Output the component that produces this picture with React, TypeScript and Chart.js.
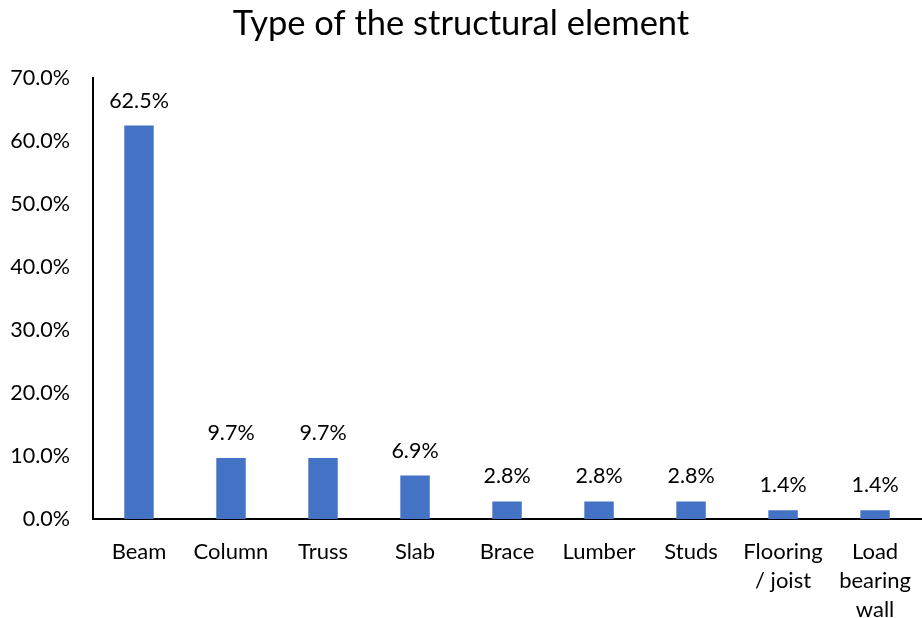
import React, { useEffect, useRef } from "react";
import { Chart, registerables } from "chart.js";

Chart.register(...registerables);

const categories: (string | string[])[] = [
  "Beam",
  "Column",
  "Truss",
  "Slab",
  "Brace",
  "Lumber",
  "Studs",
  ["Flooring", "/ joist"],
  ["Load", "bearing", "wall"],
];
const values: number[] = [62.5, 9.7, 9.7, 6.9, 2.8, 2.8, 2.8, 1.4, 1.4];
const yMax = 70;
const yStep = 10;
const title = "Type of the structural element";

const FONT = "Lato, 'Open Sans', sans-serif";

const dataLabelPlugin = {
  id: "dataLabels",
  afterDatasetsDraw(chart: any) {
    const ctx = chart.ctx;
    const meta = chart.getDatasetMeta(0);
    ctx.save();
    ctx.font = `21.5px ${FONT}`;
    ctx.fillStyle = "#000";
    ctx.textAlign = "center";
    ctx.textBaseline = "middle";
    meta.data.forEach((el: any, i: number) => {
      ctx.fillText(values[i].toFixed(1) + "%", el.x, el.y - 25);
    });
    ctx.restore();
  },
};

export default function App() {
  const ref = useRef<HTMLCanvasElement>(null);
  useEffect(() => {
    document.body.style.margin = "0";
    const chart = new Chart(ref.current!, {
      type: "bar",
      data: {
        labels: categories,
        datasets: [
          {
            data: values,
            backgroundColor: "#4472C4",
            categoryPercentage: 1,
            barPercentage: 0.32,
          },
        ],
      },
      options: {
        animation: false,
        responsive: false,
        layout: { padding: { left: 0, right: 0, top: 0, bottom: 0 } },
        plugins: {
          legend: { display: false },
          tooltip: { enabled: false },
          title: {
            display: true,
            text: title,
            color: "#000",
            font: { family: FONT, size: 34.5, weight: "normal" },
            padding: { top: 3, bottom: 34 },
          },
        },
        scales: {
          x: {
            grid: { display: false },
            border: { display: true, color: "#000", width: 2 },
            ticks: {
              color: "#000",
              font: { family: FONT, size: 22, lineHeight: 1.3 },
              padding: 11,
              maxRotation: 0,
              autoSkip: false,
            },
            afterFit(scale: any) {
              scale.height = 99;
            },
          },
          y: {
            min: 0,
            max: yMax,
            grid: { display: false },
            border: { display: true, color: "#000", width: 2 },
            ticks: {
              stepSize: yStep,
              color: "#000",
              font: { family: FONT, size: 21.5 },
              padding: 15,
              callback: (v: any) => Number(v).toFixed(1) + "%",
            },
            afterFit(scale: any) {
              scale.width = 93;
            },
          },
        },
      },
      plugins: [dataLabelPlugin],
    });
    return () => chart.destroy();
  }, []);
  return <canvas ref={ref} width={922} height={618} style={{ display: "block" }} />;
}
